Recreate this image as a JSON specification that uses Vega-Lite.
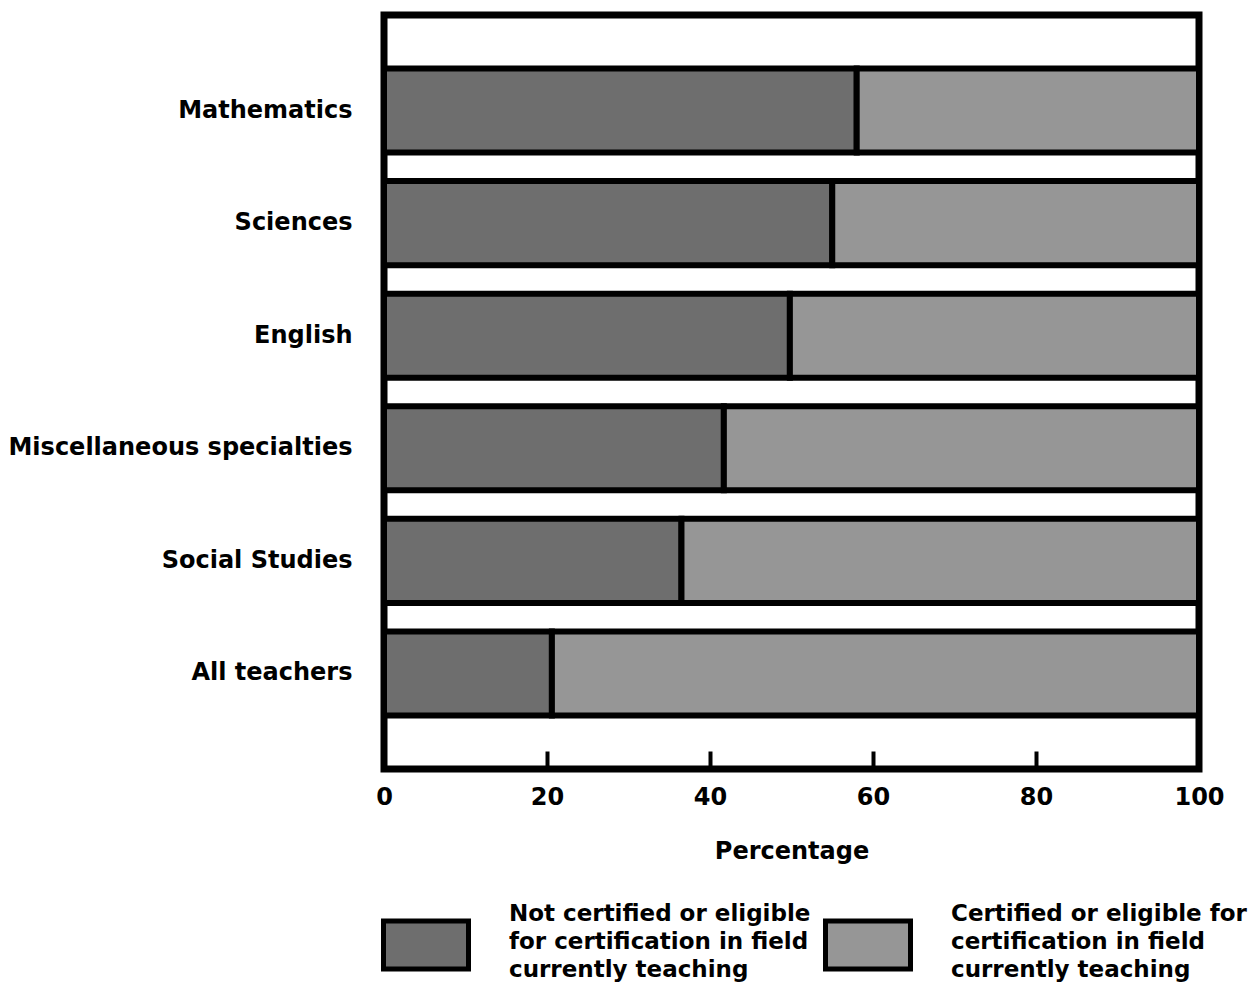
{
  "$schema": "https://vega.github.io/schema/vega-lite/v6.json",
  "width": 815,
  "height": 754,
  "autosize": {"type": "none"},
  "padding": {"left": 384, "top": 15, "right": 49, "bottom": 220},
  "background": "white",
  "data": {
    "values": [
      {"subject": "Mathematics", "group": "Not certified", "percent": 58},
      {"subject": "Mathematics", "group": "Certified", "percent": 42},
      {"subject": "Sciences", "group": "Not certified", "percent": 55},
      {"subject": "Sciences", "group": "Certified", "percent": 45},
      {"subject": "English", "group": "Not certified", "percent": 49.8},
      {"subject": "English", "group": "Certified", "percent": 50.2},
      {"subject": "Miscellaneous specialties", "group": "Not certified", "percent": 41.7},
      {"subject": "Miscellaneous specialties", "group": "Certified", "percent": 58.3},
      {"subject": "Social Studies", "group": "Not certified", "percent": 36.5},
      {"subject": "Social Studies", "group": "Certified", "percent": 63.5},
      {"subject": "All teachers", "group": "Not certified", "percent": 20.6},
      {"subject": "All teachers", "group": "Certified", "percent": 79.4}
    ]
  },
  "mark": {"type": "bar", "stroke": "black", "strokeWidth": 6, "opacity": 1},
  "encoding": {
    "y": {
      "field": "subject",
      "type": "nominal",
      "sort": null,
      "scale": {"paddingInner": 0.2533, "paddingOuter": 0.4756},
      "axis": {
        "title": null,
        "ticks": false,
        "domain": false,
        "labelPadding": 32,
        "labelFont": "DejaVu Sans",
        "labelFontWeight": "bold",
        "labelFontSize": 24,
        "labelColor": "black",
        "labelLimit": 400
      }
    },
    "x": {
      "field": "percent",
      "type": "quantitative",
      "stack": "zero",
      "scale": {"domain": [0, 100], "nice": false},
      "axis": {
        "title": "Percentage",
        "values": [0, 20, 40, 60, 80, 100],
        "grid": false,
        "domain": false,
        "tickSize": -18,
        "tickWidth": 4,
        "tickColor": "black",
        "labelFlush": false,
        "labelPadding": 34,
        "labelFont": "DejaVu Sans",
        "labelFontWeight": "bold",
        "labelFontSize": 24,
        "labelColor": "black",
        "titleFont": "DejaVu Sans",
        "titleFontWeight": "bold",
        "titleFontSize": 24,
        "titleColor": "black",
        "titlePadding": 30
      }
    },
    "fill": {
      "field": "group",
      "type": "nominal",
      "scale": {"domain": ["Not certified", "Certified"], "range": ["#6e6e6e", "#969696"]},
      "legend": {
        "orient": "none",
        "legendX": -3,
        "legendY": 854,
        "direction": "horizontal",
        "columns": 2,
        "columnPadding": 4,
        "padding": 0,
        "title": null,
        "symbolType": "M-1,0.165H1V1.295H-1Z",
        "symbolSize": 7225,
        "symbolStrokeWidth": 5,
        "symbolStrokeColor": "black",
        "symbolOpacity": 1,
        "labelOffset": 38,
        "labelFont": "DejaVu Sans",
        "labelFontWeight": "bold",
        "labelFontSize": 23,
        "labelColor": "black",
        "labelLimit": 500,
        "labelExpr": "datum.value == 'Not certified' ? ['Not certified or eligible', 'for certification in field', 'currently teaching'] : ['Certified or eligible for', 'certification in field', 'currently teaching']"
      }
    },
    "order": {"field": "group", "sort": "descending"}
  },
  "config": {
    "view": {"stroke": "black", "strokeWidth": 7},
    "style": {"guide-label": {"lineHeight": 28}}
  }
}
